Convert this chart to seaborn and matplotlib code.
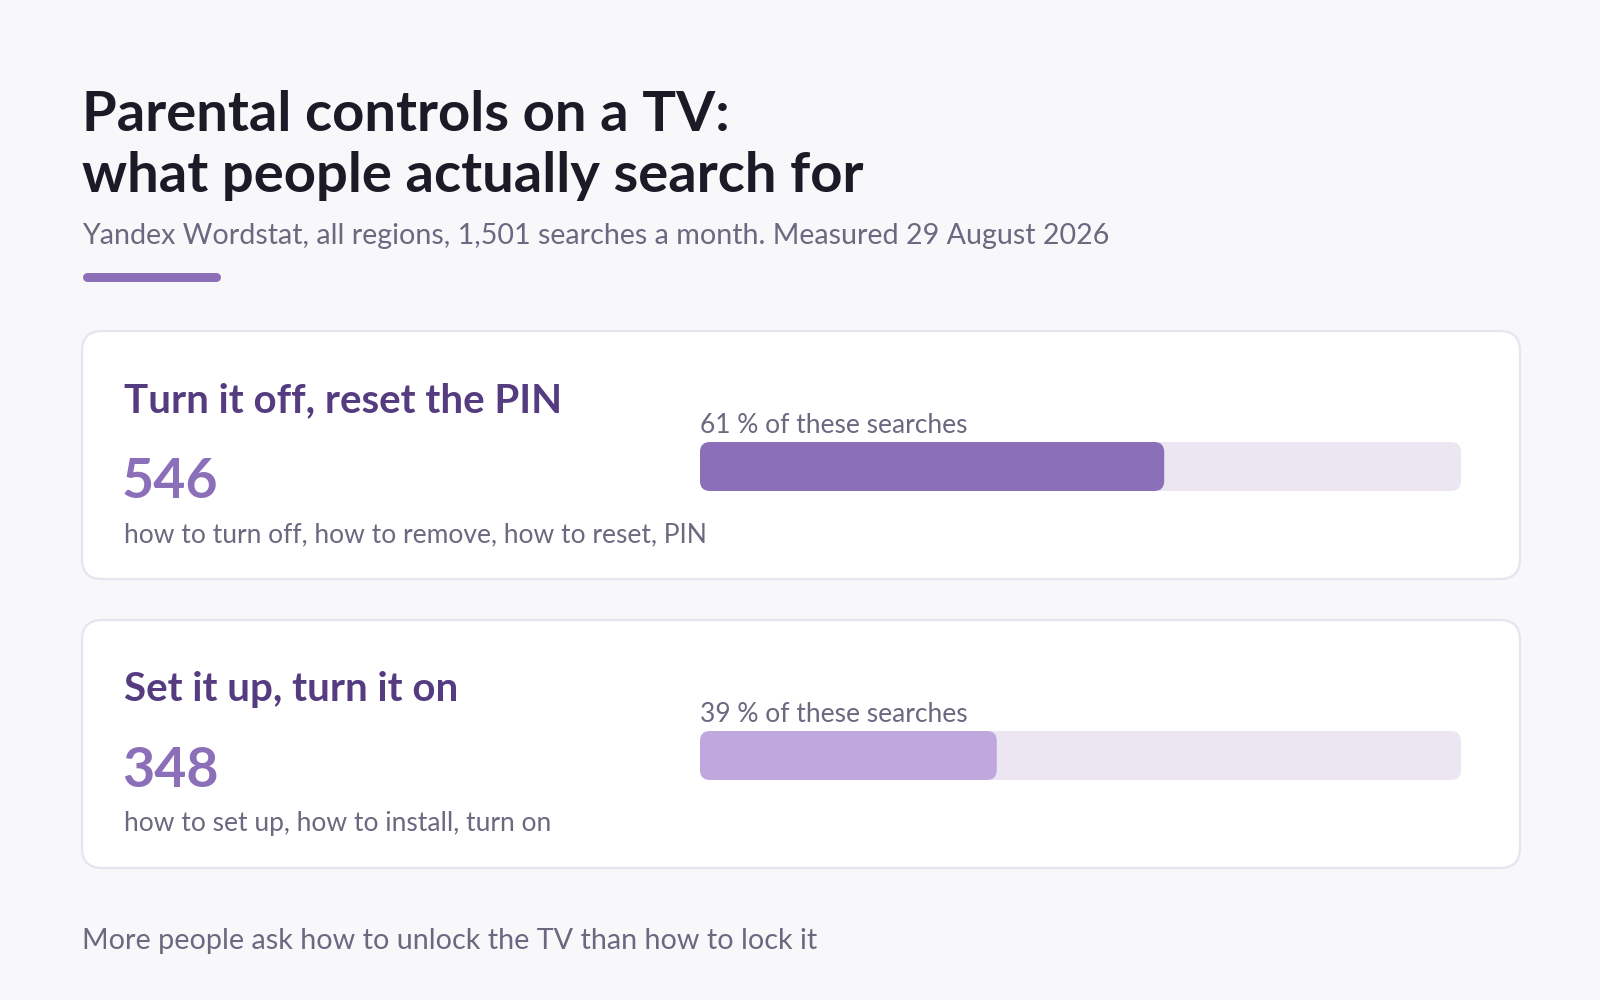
import matplotlib
matplotlib.use("Agg")
import matplotlib.pyplot as plt
import seaborn as sns
from matplotlib.patches import FancyBboxPatch

#%% Data
title_lines = ["Parental controls on a TV:", "what people actually search for"]
subtitle = "Yandex Wordstat, all regions, 1,501 searches a month. Measured 29 August 2026"
footer = "More people ask how to unlock the TV than how to lock it"

groups = ["Turn it off, reset the PIN", "Set it up, turn it on"]
searches = [546, 348]
shares = [61, 39]
queries = ["how to turn off, how to remove, how to reset, PIN",
           "how to set up, how to install, turn on"]

#%% Style
BG = "#F8F8FB"
INK = "#1C1A27"
GREY = "#6B6880"
HEAD = "#553C80"
ACCENT = "#8B6FB8"
BAR_COLORS = ["#8B6FB8", "#C0A8DE"]
TRACK = "#ECE6F3"
BORDER = "#E6E4EE"

sns.set_theme(style="white")
plt.rcParams["font.family"] = ["Lato", "DejaVu Sans"]

W, H = 1600, 1000
fig = plt.figure(figsize=(16, 10), dpi=100, facecolor=BG)
ax = fig.add_axes([0, 0, 1, 1])
ax.set_xlim(0, W)
ax.set_ylim(H, 0)
ax.axis("off")
ax.set_facecolor(BG)

#%% Header
ax.text(82, 131, title_lines[0], fontsize=40.5, fontweight="bold", color=INK, va="baseline")
ax.text(82, 192, title_lines[1], fontsize=40.5, fontweight="bold", color=INK, va="baseline")
ax.text(82, 244, subtitle, fontsize=20.6, color=GREY, va="baseline")
ax.plot([86.5, 215.5], [276.5, 276.5], lw=9 * 0.72, color=ACCENT, solid_capstyle="round")

#%% Cards
card_x, card_w, card_h = 82, 1438, 248
card_tops = [331, 620]
bar_x, bar_w, bar_h = 700, 761, 49
radius = 10

for i, top in enumerate(card_tops):
    ax.add_patch(FancyBboxPatch((card_x, top), card_w, card_h,
                                boxstyle="round,pad=0,rounding_size=20",
                                facecolor="white", edgecolor=BORDER, lw=1.6))
    ax.text(124, top + 81, groups[i], fontsize=29, fontweight="bold", color=HEAD, va="baseline")
    ax.text(122, top + 167, f"{searches[i]}", fontsize=40, fontweight="bold", color=ACCENT, va="baseline")
    ax.text(124, top + 211, queries[i], fontsize=19, color=GREY, va="baseline")
    ax.text(700, top + 102, f"{shares[i]} % of these searches", fontsize=19, color=GREY, va="baseline")

    # progress bar: track + share, drawn by seaborn, then corners rounded
    bar_top = top + 111
    bax = fig.add_axes([bar_x / W, 1 - (bar_top + bar_h) / H, bar_w / W, bar_h / H])
    sns.barplot(x=[100], y=[groups[i]], color=TRACK, width=1, orient="h", saturation=1, ax=bax)
    sns.barplot(x=[shares[i]], y=[groups[i]], color=BAR_COLORS[i], width=1, orient="h", saturation=1, ax=bax)
    bax.set_xlim(0, 100)
    bax.set_ylim(0.5, -0.5)
    bax.axis("off")
    bax.patch.set_alpha(0)
    aspect = (1 / bar_h) / (100 / bar_w)
    for p in list(bax.patches):
        x, y, w, h = p.get_x(), p.get_y(), p.get_width(), p.get_height()
        fc = p.get_facecolor()
        p.remove()
        bax.add_patch(FancyBboxPatch((x, y), w, h,
                                     boxstyle=f"round,pad=0,rounding_size={radius * 100 / bar_w}",
                                     mutation_aspect=aspect, facecolor=fc, edgecolor="none"))

#%% Footer
ax.text(82, 949, footer, fontsize=20.7, color=GREY, va="baseline")

fig.savefig("out.png", dpi=100, facecolor=BG)
